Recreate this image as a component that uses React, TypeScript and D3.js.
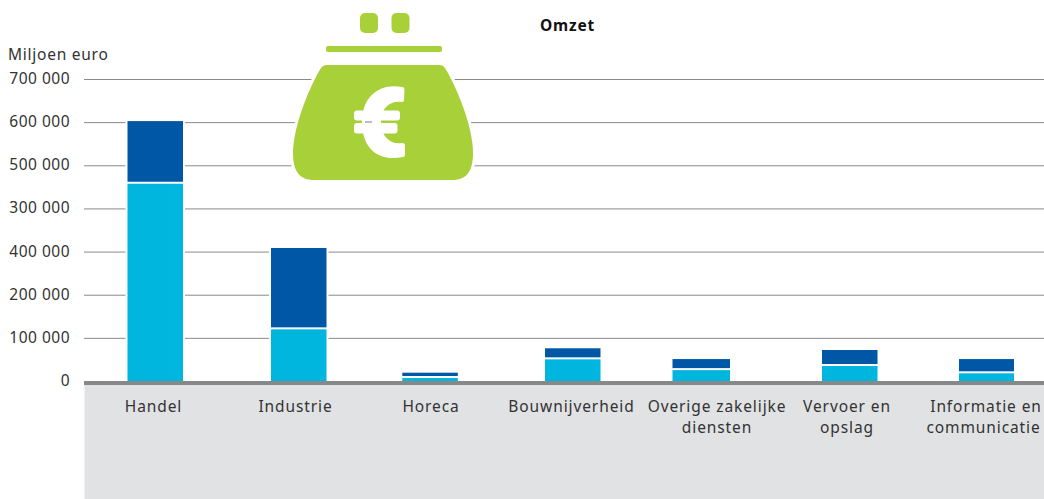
import React from "react";
import * as d3 from "d3";

const categories = [
  ["Handel"],
  ["Industrie"],
  ["Horeca"],
  ["Bouwnijverheid"],
  ["Overige zakelijke", "diensten"],
  ["Vervoer en", "opslag"],
  ["Informatie en", "communicatie"],
];
const lowerValues = [463000, 125500, 12700, 56000, 31000, 40500, 23600];
const upperValues = [140600, 184000, 7700, 21000, 21000, 32500, 28400];
const tickValues = [700000, 600000, 500000, 400000, 300000, 200000, 100000, 0];
const tickLabels = ["700 000", "600 000", "500 000", "300 000", "400 000", "200 000", "100 000", "0"];
const barLefts = [127.5, 271, 402.3, 545, 672.5, 822, 959];
const barWidths = [55.5, 55.5, 55.5, 55.5, 57.5, 55.5, 55];
const labelCenters = [153.5, 295.5, 431, 571.5, 717, 847, 983.5];

const W = 1044, H = 499;
const FONT = "'Noto Sans', sans-serif";
const TEXT = "#333";

export default function App() {
  const y = d3.scaleLinear().domain([0, 700000]).range([381.5, 79.5]);
  const stack = d3.stack<number>().keys(["0", "1"]).value((i, k) => (k === "0" ? lowerValues[i] : upperValues[i]));
  const series = stack(d3.range(categories.length));
  const fills = ["#00b6de", "#0057a6"];

  return (
    <svg width={W} height={H} style={{ position: "absolute", left: 0, top: 0, display: "block" }} fontFamily={FONT}>
      <rect x={0} y={0} width={W} height={H} fill="#fff" />
      <rect x={84.5} y={381} width={W - 84.5} height={H - 381} fill="#e1e2e4" />
      {tickValues.slice(0, -1).map((t) => (
        <line key={t} x1={84} x2={W} y1={y(t)} y2={y(t)} stroke="#8a8a8a" strokeWidth={1} />
      ))}
      {series.map((s, si) =>
        s.map((d, i) => (
          <rect key={`${si}-${i}`} x={barLefts[i]} y={y(d[1])} width={barWidths[i]} height={y(d[0]) - y(d[1])}
            fill={fills[si]} stroke="#fff" strokeWidth={4} paintOrder="stroke" />
        ))
      )}
      <rect x={84} y={381} width={W - 84} height={4} fill="#87888a" />
      {tickValues.map((t, i) => (
        <text key={t} x={70} y={y(t) + 4.5} textAnchor="end" fontSize={15.5} letterSpacing={0.5} fill={TEXT}>{tickLabels[i]}</text>
      ))}
      <text x={8} y={60} fontSize={15.5} letterSpacing={0.75} fill={TEXT}>Miljoen euro</text>
      <text x={567.5} y={31} textAnchor="middle" fontSize={15.5} fontWeight={700} letterSpacing={0.8} fill="#111">Omzet</text>
      {categories.map((lines, i) => (
        <text key={i} textAnchor="middle" fontSize={15.5} letterSpacing={0.9} fill={TEXT}>
          {lines.map((l, j) => (
            <tspan key={j} x={labelCenters[i] + (i === 6 && j === 0 ? 2.5 : 0)} y={412 + j * 21}>{l}</tspan>
          ))}
        </text>
      ))}
      <g fill="#a8d039">
        <rect x={360} y={13} width={18} height={20} rx={5} />
        <rect x={391.5} y={13} width={18} height={20} rx={5} />
        <rect x={326} y={46} width={116} height={6} rx={2} />
        <path d="M326 65 L440 65 Q443 65 445 68 C455 84 473 125 473 153 C473 172 466 180 452 180 L314 180 C300 180 293 172 293 153 C293 125 311 84 321 68 Q323 65 326 65 Z" stroke="#fff" strokeWidth={6} paintOrder="stroke" />
      </g>
      <g fill="#fff">
        <path d="M402 87 Q404.5 87 404.5 89 L404 100 Q404 102 402 102 C392 100 381 106 381 122 C381 138 392 145 402 143 Q405 143 405 145 L405 155 Q405 157 403 157 C380 162 362 150 362 122 C362 96 380 83 402 87 Z" />
        <rect x={354} y={110.5} width={46} height={10} rx={3} />
        <rect x={354} y={123} width={43.5} height={10.5} rx={3} />
      </g>
      <line x1={365} x2={372} y1={122} y2={122} stroke="#bdbdbd" strokeWidth={2} />
    </svg>
  );
}
